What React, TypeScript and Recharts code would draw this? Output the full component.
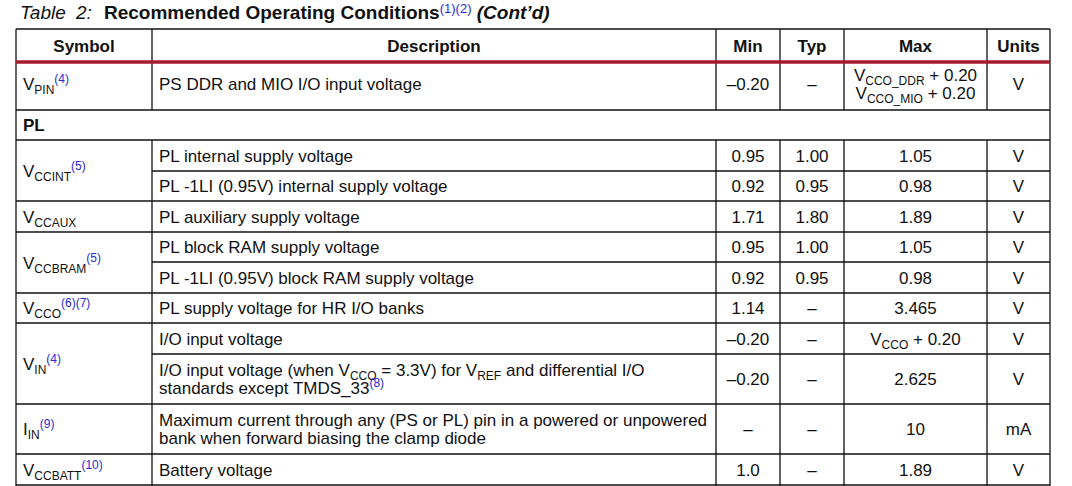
import React from 'react';
import { ScatterChart, Scatter, XAxis, YAxis, ReferenceLine } from 'recharts';

const W = 1072;
const H = 486;
const INK = '#111111';
const BLUE = '#2a2ad6';
const RED = '#a51a2d';
const FONT = '"Liberation Sans", Arial, Helvetica, sans-serif';

// table content ( _{..} = subscript, ^{..} = superscript, \n = new line )
const headers = ['Symbol', 'Description', 'Min', 'Typ', 'Max', 'Units'];
const sectionLabel = 'PL';
const symbols = [
  'V_{PIN}^{(4)}',
  'V_{CCINT}^{(5)}',
  'V_{CCAUX}',
  'V_{CCBRAM}^{(5)}',
  'V_{CCO}^{(6)(7)}',
  'V_{IN}^{(4)}',
  'I_{IN}^{(9)}',
  'V_{CCBATT}^{(10)}',
];
const descriptions = [
  'PS DDR and MIO I/O input voltage',
  'PL internal supply voltage',
  'PL -1LI (0.95V) internal supply voltage',
  'PL auxiliary supply voltage',
  'PL block RAM supply voltage',
  'PL -1LI (0.95V) block RAM supply voltage',
  'PL supply voltage for HR I/O banks',
  'I/O input voltage',
  'I/O input voltage (when V_{CCO} = 3.3V) for V_{REF} and differential I/O\nstandards except TMDS_33^{(8)}',
  'Maximum current through any (PS or PL) pin in a powered or unpowered\nbank when forward biasing the clamp diode',
  'Battery voltage',
];
const minValues = ['–0.20', '0.95', '0.92', '1.71', '0.95', '0.92', '1.14', '–0.20', '–0.20', '–', '1.0'];
const typValues = ['–', '1.00', '0.95', '1.80', '1.00', '0.95', '–', '–', '–', '–', '–'];
const maxValues = [
  'V_{CCO_DDR} + 0.20\nV_{CCO_MIO} + 0.20',
  '1.05', '0.98', '1.89', '1.05', '0.98', '3.465',
  'V_{CCO} + 0.20', '2.625', '10', '1.89',
];
const unitValues = ['V', 'V', 'V', 'V', 'V', 'V', 'V', 'V', 'V', 'mA', 'V'];

// table structure: which grid rows each symbol spans, which rows hold data
const symbolRows = [[1, 1], [3, 4], [5, 5], [6, 7], [8, 8], [9, 10], [11, 11], [12, 12]];
const dataRows = [1, 3, 4, 5, 6, 7, 8, 9, 10, 11, 12];
const sectionRow = 2;

// layout grid
const colEdges = [16, 152, 716, 780, 844, 987, 1050];
const rowEdges = [29, 62, 110, 140, 171, 201, 232, 262, 293, 323, 354, 404, 454, 485];
const rowNudge = [0, -2, 0, 0, 0, 0, 0, 0, 0, 0, 0, 0, 0];

type Seg = { t: string; k: 'n' | 'sub' | 'sup' };

function parse(s: string): Seg[] {
  const out: Seg[] = [];
  let buf = '';
  let i = 0;
  while (i < s.length) {
    const c = s[i];
    if ((c === '_' || c === '^') && s[i + 1] === '{') {
      if (buf) { out.push({ t: buf, k: 'n' }); buf = ''; }
      const end = s.indexOf('}', i + 2);
      out.push({ t: s.slice(i + 2, end), k: c === '_' ? 'sub' : 'sup' });
      i = end + 1;
    } else {
      buf += c;
      i++;
    }
  }
  if (buf) out.push({ t: buf, k: 'n' });
  return out;
}

function RichLine({ x, y, s, anchor, bold }: any) {
  let shift = 0;
  const spans = parse(s).map((seg, i) => {
    const target = seg.k === 'sub' ? 4 : seg.k === 'sup' ? -7 : 0;
    const dy = target - shift;
    shift = target;
    return (
      <tspan key={i} dy={dy} fontSize={seg.k === 'n' ? 17 : 12} fill={seg.k === 'sup' ? BLUE : INK}>
        {seg.t}
      </tspan>
    );
  });
  return (
    <text
      x={x}
      y={y}
      textAnchor={anchor}
      fontFamily={FONT}
      fontWeight={bold ? 700 : 400}
      style={{ whiteSpace: 'pre' }}
    >
      {spans}
    </text>
  );
}

const rowMid = (a: number, b: number) => (rowEdges[a] + rowEdges[b + 1]) / 2 + (a === b ? rowNudge[a] : 0);
const colMid = (c: number) => (colEdges[c] + colEdges[c + 1]) / 2;

// one scatter point per cell, text drawn by the point's shape
const cells: any[] = [];
headers.forEach((h, c) => cells.push({ x: colMid(c), y: rowMid(0, 0), text: h, anchor: 'middle', bold: true }));
cells.push({ x: colEdges[0] + 7, y: rowMid(sectionRow, sectionRow), text: sectionLabel, anchor: 'start', bold: true });
symbols.forEach((s, i) => {
  const [a, b] = symbolRows[i];
  cells.push({ x: colEdges[0] + 7, y: rowMid(a, b), text: s, anchor: 'start' });
});
dataRows.forEach((r, i) => {
  const y = rowMid(r, r);
  cells.push({ x: colEdges[1] + 7, y, text: descriptions[i], anchor: 'start' });
  cells.push({ x: colMid(2), y, text: minValues[i], anchor: 'middle' });
  cells.push({ x: colMid(3), y, text: typValues[i], anchor: 'middle' });
  cells.push({ x: colMid(4), y, text: maxValues[i], anchor: 'middle' });
  cells.push({ x: colMid(5), y, text: unitValues[i], anchor: 'middle' });
});

function CellText(props: any) {
  const { cx, cy, payload } = props;
  const lines = String(payload.text).split('\n');
  const n = lines.length;
  return (
    <g>
      {lines.map((ln, i) => (
        <RichLine
          key={i}
          x={cx}
          y={cy + 6 - (n - 1) * 9.25 + i * 18.5}
          s={ln}
          anchor={payload.anchor}
          bold={payload.bold}
        />
      ))}
    </g>
  );
}

// grid lines
const fullH = [0, 2, 3, 5, 6, 8, 9, 11, 12, 13];
const partialH = [4, 7, 10];
const innerCols = [1, 2, 3, 4, 5];

function Title() {
  return (
    <text x={20} y={19} fontFamily={FONT} fontSize={19} fill={INK} style={{ whiteSpace: 'pre' }}>
      <tspan fontStyle="italic">Table</tspan>
      <tspan x={76} fontStyle="italic">2:</tspan>
      <tspan x={104} fontWeight={700}>Recommended Operating Conditions</tspan>
      <tspan dy={-6} fontSize={13} fill={BLUE}>(1)(2)</tspan>
      <tspan dy={6} fontWeight={700} fontStyle="italic"> (Cont’d)</tspan>
    </text>
  );
}

export default function App() {
  const line = { stroke: INK, strokeWidth: 1.3, ifOverflow: 'visible' as const };
  return (
    <div style={{ position: 'absolute', left: 0, top: 0, width: W, height: H, background: '#fff' }}>
      <svg width={W} height={H} style={{ position: 'absolute', left: 0, top: 0 }}>
        <Title />
      </svg>
      <div style={{ position: 'absolute', left: 0, top: 0 }}>
        <ScatterChart width={W} height={H} margin={{ top: 0, right: 0, bottom: 0, left: 0 }}>
          <XAxis type="number" dataKey="x" domain={[0, W]} hide allowDataOverflow />
          <YAxis type="number" dataKey="y" domain={[0, H]} reversed hide allowDataOverflow />
          {fullH.map((r) => (
            <ReferenceLine key={`h${r}`} segment={[{ x: colEdges[0], y: rowEdges[r] }, { x: colEdges[6], y: rowEdges[r] }]} {...line} />
          ))}
          {partialH.map((r) => (
            <ReferenceLine key={`p${r}`} segment={[{ x: colEdges[1], y: rowEdges[r] }, { x: colEdges[6], y: rowEdges[r] }]} {...line} />
          ))}
          {[0, 6].map((c) => (
            <ReferenceLine key={`o${c}`} segment={[{ x: colEdges[c], y: rowEdges[0] }, { x: colEdges[c], y: H }]} {...line} />
          ))}
          {innerCols.map((c) => (
            <ReferenceLine key={`a${c}`} segment={[{ x: colEdges[c], y: rowEdges[0] }, { x: colEdges[c], y: rowEdges[2] }]} {...line} />
          ))}
          {innerCols.map((c) => (
            <ReferenceLine key={`b${c}`} segment={[{ x: colEdges[c], y: rowEdges[3] }, { x: colEdges[c], y: H }]} {...line} />
          ))}
          <ReferenceLine
            segment={[{ x: colEdges[0], y: rowEdges[1] }, { x: colEdges[6], y: rowEdges[1] }]}
            stroke={RED}
            strokeWidth={3.5}
            ifOverflow="visible"
          />
          <Scatter data={cells} dataKey="y" shape={(p: any) => <CellText {...p} />} isAnimationActive={false} />
        </ScatterChart>
      </div>
    </div>
  );
}
